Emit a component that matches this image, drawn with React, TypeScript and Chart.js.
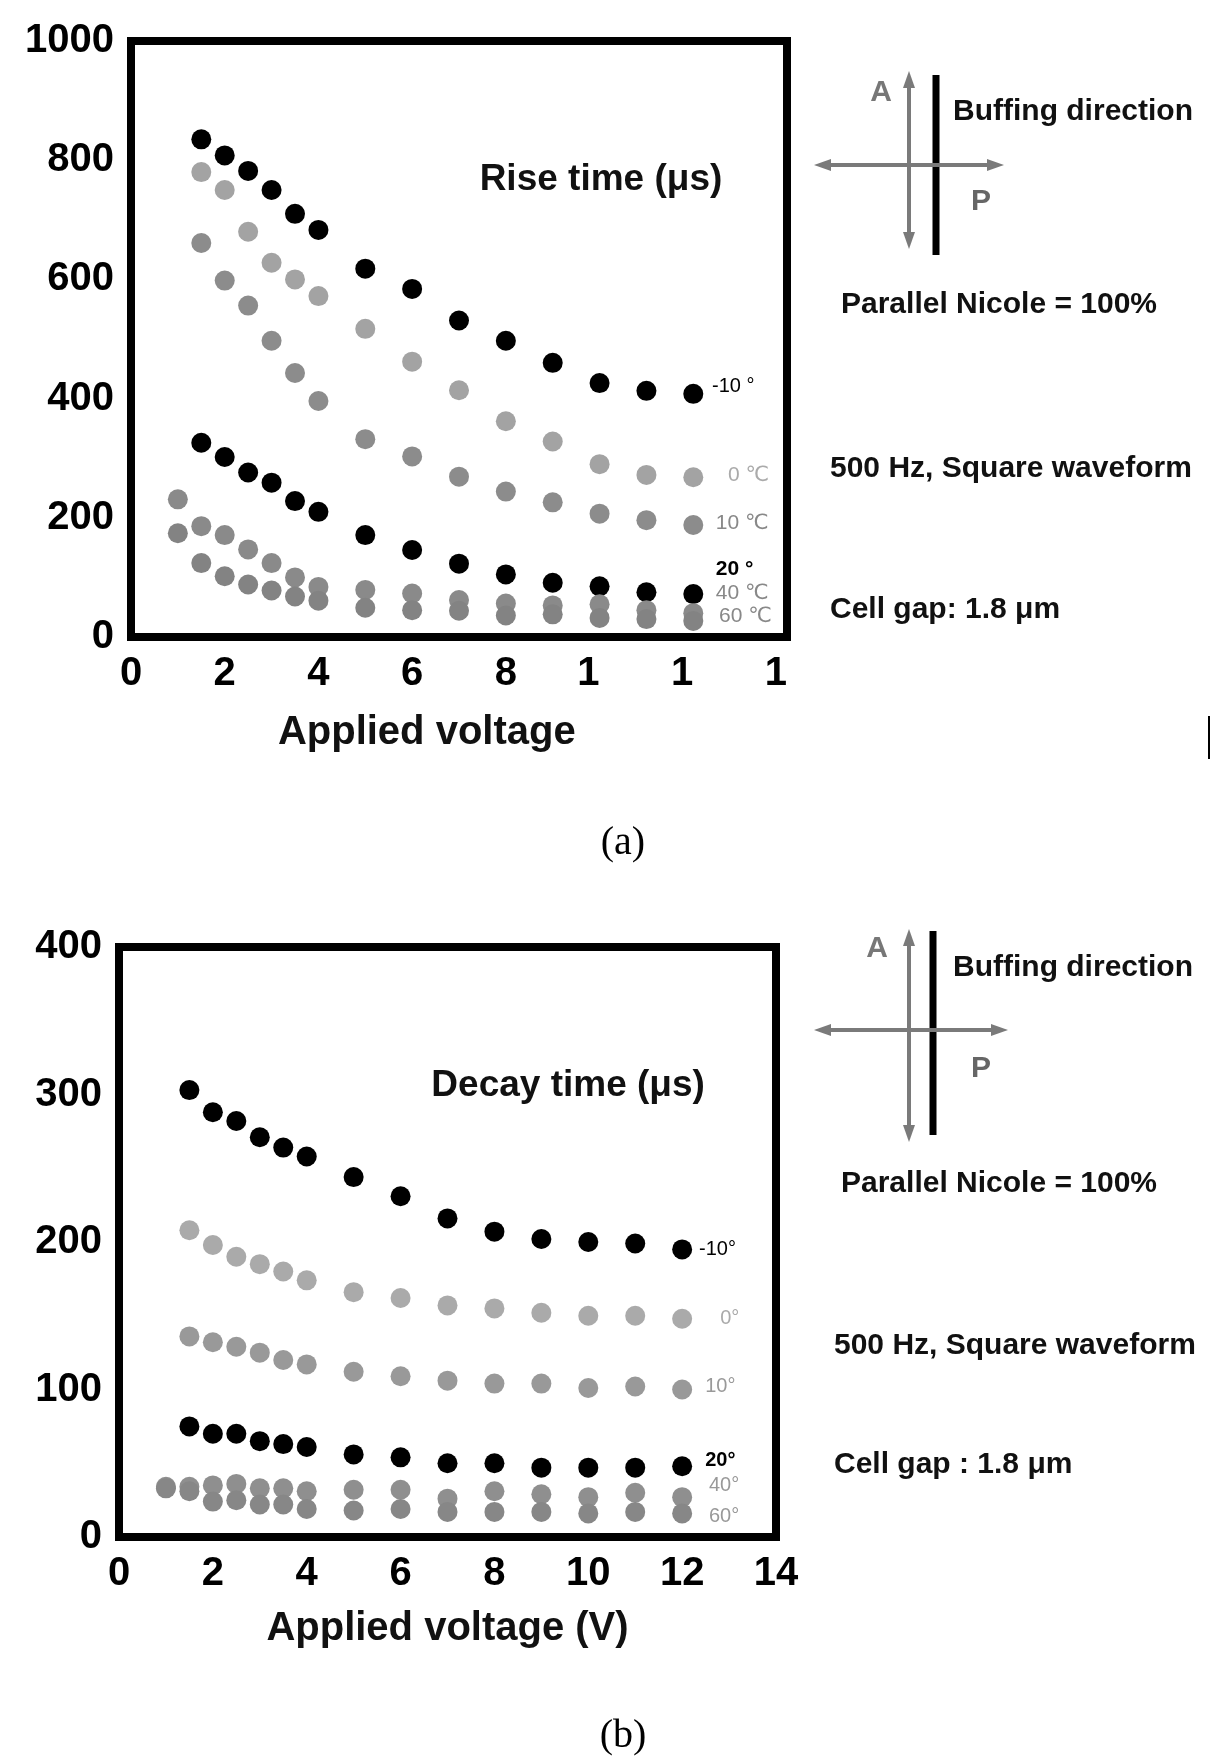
import React, { useEffect, useRef } from 'react';
import { Chart, registerables } from 'chart.js';

Chart.register(...registerables);

const FONT = '"Liberation Sans", Arial, "DejaVu Sans", sans-serif';

// ---------- (a) Rise time data ----------
const riseVoltsHigh = [1.5, 2, 2.5, 3, 3.5, 4, 5, 6, 7, 8, 9, 10, 11, 12];
const riseVoltsLow = [1, 1.5, 2, 2.5, 3, 3.5, 4, 5, 6, 7, 8, 9, 10, 11, 12];
const riseM10 = [835, 808, 782, 750, 710, 683, 618, 584, 531, 497, 460, 426, 413, 408];
const rise0 = [780, 750, 680, 628, 600, 572, 517, 462, 414, 362, 328, 290, 272, 268];
const rise10 = [661, 598, 556, 497, 443, 396, 332, 303, 269, 244, 226, 207, 196, 188];
const rise20 = [326, 302, 276, 259, 228, 210, 171, 146, 123, 105, 91, 85, 75, 72];
const rise40 = [231, 186, 171, 147, 124, 100, 84, 79, 73, 62, 56, 53, 55, 45, 40];
const rise60 = [174, 124, 102, 88, 78, 68, 61, 49, 45, 44, 36, 38, 32, 30, 27];
const riseXTickLabels = ['0', '2', '4', '6', '8', '1', '1', '1'];
const riseYTickLabels = ['0', '200', '400', '600', '800', '1000'];

// ---------- (b) Decay time data ----------
const decayVoltsHigh = [1.5, 2, 2.5, 3, 3.5, 4, 5, 6, 7, 8, 9, 10, 11, 12];
const decayVoltsLow = [1, 1.5, 2, 2.5, 3, 3.5, 4, 5, 6, 7, 8, 9, 10, 11, 12];
const decayM10 = [303, 288, 282, 271, 264, 258, 244, 231, 216, 207, 202, 200, 199, 195];
const decay0 = [208, 198, 190, 185, 180, 174, 166, 162, 157, 155, 152, 150, 150, 148];
const decay10 = [136, 132, 129, 125, 120, 117, 112, 109, 106, 104, 104, 101, 102, 100];
const decay20 = [75, 70, 70, 65, 63, 61, 56, 54, 50, 50, 47, 47, 47, 48];
const decay40 = [34, 34, 35, 36, 33, 33, 31, 32, 32, 26, 31, 29, 27, 30, 27];
const decay60 = [33, 31, 24, 25, 22, 22, 19, 18, 19, 17, 17, 17, 16, 17, 16];
const decayXTickLabels = ['0', '2', '4', '6', '8', '10', '12', '14'];
const decayYTickLabels = ['0', '100', '200', '300', '400'];

type Series = { x: number[]; y: number[]; color: string };
type Note = { text: string; x: number; y: number; color: string; size: number; bold?: boolean };

const riseSeries: Series[] = [
  { x: riseVoltsLow, y: rise60, color: '#838383' },
  { x: riseVoltsLow, y: rise40, color: '#8a8a8a' },
  { x: riseVoltsHigh, y: rise10, color: '#8c8c8c' },
  { x: riseVoltsHigh, y: rise0, color: '#a3a3a3' },
  { x: riseVoltsHigh, y: rise20, color: '#000000' },
  { x: riseVoltsHigh, y: riseM10, color: '#000000' },
];
const decaySeries: Series[] = [
  { x: decayVoltsLow, y: decay60, color: '#878787' },
  { x: decayVoltsLow, y: decay40, color: '#8f8f8f' },
  { x: decayVoltsHigh, y: decay10, color: '#999999' },
  { x: decayVoltsHigh, y: decay0, color: '#aaaaaa' },
  { x: decayVoltsHigh, y: decay20, color: '#000000' },
  { x: decayVoltsHigh, y: decayM10, color: '#000000' },
];

const riseNotes: Note[] = [
  { text: '-10 °', x: 12.4, y: 420, color: '#000', size: 20 },
  { text: '0 ℃', x: 12.74, y: 271, color: '#aaaaaa', size: 21 },
  { text: '10 ℃', x: 12.48, y: 191, color: '#888888', size: 21 },
  { text: '20 °', x: 12.48, y: 114, color: '#000', size: 21, bold: true },
  { text: '40 ℃', x: 12.48, y: 74, color: '#888888', size: 21 },
  { text: '60 ℃', x: 12.55, y: 35, color: '#888888', size: 21 },
];
const decayNotes: Note[] = [
  { text: '-10°', x: 12.36, y: 195, color: '#000', size: 20 },
  { text: '0°', x: 12.81, y: 148, color: '#aaaaaa', size: 20 },
  { text: '10°', x: 12.49, y: 102, color: '#999999', size: 20 },
  { text: '20°', x: 12.49, y: 52, color: '#000', size: 20, bold: true },
  { text: '40°', x: 12.57, y: 35, color: '#999999', size: 20 },
  { text: '60°', x: 12.57, y: 14, color: '#999999', size: 20 },
];

type PanelProps = {
  canvasTop: number;
  canvasHeight: number;
  areaLeft: number;
  areaRight: number;
  areaTop: number;
  areaBottom: number;
  series: Series[];
  yMax: number;
  yStep: number;
  xTickLabels: string[];
  yTickLabels: string[];
  notes: Note[];
  innerTitle: { text: string; x: number; y: number };
  xTitleShown: string;
  xTitleFull: string;
  xTitleOffset: number;
};

function ScatterPanel(p: PanelProps) {
  const ref = useRef<HTMLCanvasElement | null>(null);
  useEffect(() => {
    if (!ref.current) return;
    const overlay = {
      id: 'frameAndNotes',
      afterDatasetsDraw(chart: any) {
        const { ctx, chartArea: a, scales } = chart;
        ctx.save();
        ctx.lineWidth = 8;
        ctx.strokeStyle = '#000';
        ctx.strokeRect(a.left, a.top, a.right - a.left, a.bottom - a.top);
        ctx.textAlign = 'left';
        ctx.textBaseline = 'middle';
        for (const n of p.notes) {
          ctx.font = `${n.bold ? 'bold ' : ''}${n.size}px ${FONT}`;
          ctx.fillStyle = n.color;
          ctx.fillText(n.text, scales.x.getPixelForValue(n.x), scales.y.getPixelForValue(n.y));
        }
        ctx.font = `bold 37px ${FONT}`;
        ctx.fillStyle = '#111';
        ctx.textAlign = 'center';
        ctx.fillText(
          p.innerTitle.text,
          scales.x.getPixelForValue(p.innerTitle.x),
          scales.y.getPixelForValue(p.innerTitle.y)
        );
        ctx.font = `bold 40px ${FONT}`;
        ctx.textAlign = 'left';
        ctx.textBaseline = 'alphabetic';
        const w = ctx.measureText(p.xTitleFull).width;
        const cx = (a.left + a.right) / 2;
        ctx.fillText(p.xTitleShown, cx - w / 2, a.bottom + p.xTitleOffset);
        ctx.restore();
      },
    };
    const chart = new Chart(ref.current, {
      type: 'scatter',
      data: {
        datasets: p.series.map((s) => ({
          data: s.x.map((v, i) => ({ x: v, y: s.y[i] })),
          backgroundColor: s.color,
          borderColor: s.color,
          pointRadius: 10,
          pointHoverRadius: 10,
          pointBorderWidth: 0,
          showLine: false,
          clip: false,
        })),
      },
      options: {
        responsive: false,
        maintainAspectRatio: false,
        animation: false,
        devicePixelRatio: 1,
        events: [],
        layout: {
          padding: { left: 0, right: 1218 - p.areaRight, top: p.areaTop - p.canvasTop, bottom: 0 },
        },
        plugins: { legend: { display: false }, tooltip: { enabled: false } },
        scales: {
          x: {
            type: 'linear',
            min: 0,
            max: 14,
            afterFit: (s: any) => {
              s.height = p.canvasTop + p.canvasHeight - p.areaBottom;
            },
            grid: { display: false, drawTicks: false },
            border: { display: false },
            ticks: {
              stepSize: 2,
              autoSkip: false,
              maxRotation: 0,
              padding: 13,
              color: '#000',
              font: { family: FONT, size: 40, weight: 'bold' },
              callback: (value: any, index: number) => {
                const lab = p.xTickLabels[index] ?? '';
                const full = String(value);
                return lab.length < full.length ? lab + '  '.repeat(full.length - lab.length) : lab;
              },
            },
          },
          y: {
            type: 'linear',
            min: 0,
            max: p.yMax,
            afterFit: (s: any) => {
              s.width = p.areaLeft;
            },
            grid: { display: false, drawTicks: false },
            border: { display: false },
            ticks: {
              stepSize: p.yStep,
              padding: 17,
              color: '#000',
              font: { family: FONT, size: 40, weight: 'bold' },
              callback: (_v: any, index: number) => p.yTickLabels[index] ?? '',
            },
          },
        },
      },
      plugins: [overlay],
    } as any);
    return () => chart.destroy();
  }, []);
  return (
    <canvas
      ref={ref}
      width={1218}
      height={p.canvasHeight}
      style={{ position: 'absolute', left: 0, top: p.canvasTop, width: 1218, height: p.canvasHeight }}
    />
  );
}

function DoubleArrowV({ x, y1, y2 }: { x: number; y1: number; y2: number }) {
  const c = '#7a7a7a';
  return (
    <g>
      <line x1={x} y1={y1 + 12} x2={x} y2={y2 - 12} stroke={c} strokeWidth={4} />
      <polygon points={`${x},${y1} ${x - 6},${y1 + 17} ${x + 6},${y1 + 17}`} fill={c} />
      <polygon points={`${x},${y2} ${x - 6},${y2 - 17} ${x + 6},${y2 - 17}`} fill={c} />
    </g>
  );
}
function DoubleArrowH({ y, x1, x2 }: { y: number; x1: number; x2: number }) {
  const c = '#7a7a7a';
  return (
    <g>
      <line x1={x1 + 12} y1={y} x2={x2 - 12} y2={y} stroke={c} strokeWidth={4} />
      <polygon points={`${x1},${y} ${x1 + 17},${y - 6} ${x1 + 17},${y + 6}`} fill={c} />
      <polygon points={`${x2},${y} ${x2 - 17},${y - 6} ${x2 - 17},${y + 6}`} fill={c} />
    </g>
  );
}

type SideProps = {
  a: [number, number];
  p: [number, number];
  vArrow: [number, number, number];
  bar: [number, number, number];
  hArrow: [number, number, number];
  buff: [number, number];
  nicole: [number, number];
  freq: [number, number];
  gap: [number, number];
  gapText: string;
};

function SidePanel(s: SideProps) {
  const textStyle = { fontFamily: FONT, fontWeight: 'bold' as const, fontSize: 30, fill: '#111' };
  return (
    <g>
      <DoubleArrowV x={s.vArrow[0]} y1={s.vArrow[1]} y2={s.vArrow[2]} />
      <line x1={s.bar[0]} y1={s.bar[1]} x2={s.bar[0]} y2={s.bar[2]} stroke="#000" strokeWidth={7} />
      <DoubleArrowH y={s.hArrow[0]} x1={s.hArrow[1]} x2={s.hArrow[2]} />
      <text x={s.a[0]} y={s.a[1]} textAnchor="middle" dominantBaseline="central" style={{ ...textStyle, fill: '#777' }}>
        A
      </text>
      <text x={s.p[0]} y={s.p[1]} textAnchor="middle" dominantBaseline="central" style={{ ...textStyle, fill: '#666' }}>
        P
      </text>
      <text x={s.buff[0]} y={s.buff[1]} dominantBaseline="central" style={textStyle}>
        Buffing direction
      </text>
      <text x={s.nicole[0]} y={s.nicole[1]} dominantBaseline="central" style={textStyle}>
        Parallel Nicole = 100%
      </text>
      <text x={s.freq[0]} y={s.freq[1]} dominantBaseline="central" style={textStyle}>
        500 Hz, Square waveform
      </text>
      <text x={s.gap[0]} y={s.gap[1]} dominantBaseline="central" style={textStyle}>
        {s.gapText}
      </text>
    </g>
  );
}

export default function App() {
  useEffect(() => {
    document.body.style.margin = '0';
  }, []);
  return (
    <div style={{ position: 'relative', width: 1218, height: 1756, background: '#fff', overflow: 'hidden' }}>
      <ScatterPanel
        canvasTop={0}
        canvasHeight={800}
        areaLeft={131}
        areaRight={787}
        areaTop={39}
        areaBottom={637}
        series={riseSeries}
        yMax={1000}
        yStep={200}
        xTickLabels={riseXTickLabels}
        yTickLabels={riseYTickLabels}
        notes={riseNotes}
        innerTitle={{ text: 'Rise time (μs)', x: 10.03, y: 767 }}
        xTitleShown="Applied voltage"
        xTitleFull="Applied voltage (V)"
        xTitleOffset={107}
      />
      <ScatterPanel
        canvasTop={880}
        canvasHeight={800}
        areaLeft={119}
        areaRight={776}
        areaTop={947}
        areaBottom={1537}
        series={decaySeries}
        yMax={400}
        yStep={100}
        xTickLabels={decayXTickLabels}
        yTickLabels={decayYTickLabels}
        notes={decayNotes}
        innerTitle={{ text: 'Decay time (μs)', x: 9.57, y: 306 }}
        xTitleShown="Applied voltage (V)"
        xTitleFull="Applied voltage (V)"
        xTitleOffset={103}
      />
      <svg
        width={1218}
        height={1756}
        style={{ position: 'absolute', left: 0, top: 0, pointerEvents: 'none' }}
      >
        <SidePanel
          a={[881, 90]}
          p={[981, 199]}
          vArrow={[909, 71, 249]}
          bar={[936, 75, 255]}
          hArrow={[165, 814, 1004]}
          buff={[953, 109]}
          nicole={[841, 302]}
          freq={[830, 466]}
          gap={[830, 607]}
          gapText="Cell gap: 1.8 μm"
        />
        <SidePanel
          a={[877, 946]}
          p={[981, 1066]}
          vArrow={[909, 929, 1142]}
          bar={[933, 931, 1135]}
          hArrow={[1030, 814, 1008]}
          buff={[953, 965]}
          nicole={[841, 1181]}
          freq={[834, 1343]}
          gap={[834, 1462]}
          gapText="Cell gap : 1.8 μm"
        />
        <line x1={1209} y1={716} x2={1209} y2={759} stroke="#000" strokeWidth={2} />
        <text
          x={623}
          y={840}
          textAnchor="middle"
          dominantBaseline="central"
          style={{ fontFamily: '"Liberation Serif", "Times New Roman", serif', fontSize: 40, fill: '#000' }}
        >
          (a)
        </text>
        <text
          x={623}
          y={1733}
          textAnchor="middle"
          dominantBaseline="central"
          style={{ fontFamily: '"Liberation Serif", "Times New Roman", serif', fontSize: 40, fill: '#000' }}
        >
          (b)
        </text>
      </svg>
    </div>
  );
}
